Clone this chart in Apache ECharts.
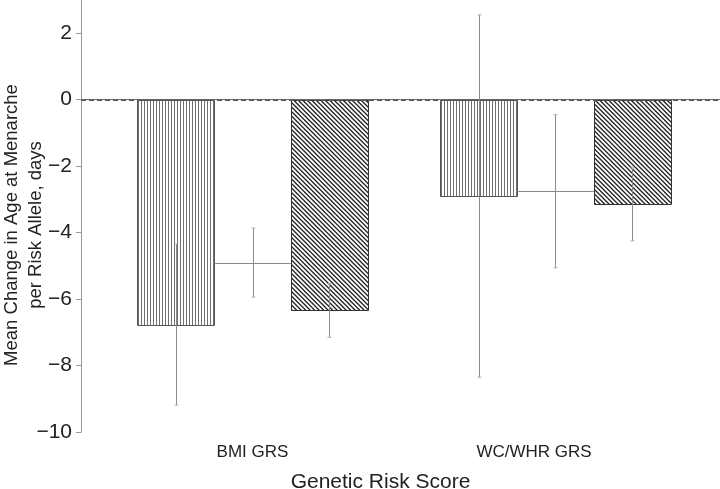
<!DOCTYPE html>
<html>
<head>
<meta charset="utf-8">
<script src="https://cdn.jsdelivr.net/npm/echarts@6/dist/echarts.min.js"></script>
<style>html,body{margin:0;padding:0;background:#fff;}#c{width:720px;height:489px;}</style>
</head>
<body>
<div id="c"></div>
<script>
// ---- data ----
const categories = ['BMI GRS', 'WC/WHR GRS'];
const yTicks = [-10, -8, -6, -4, -2, 0, 2];
const referenceLine = [0];
// vertical-hatched bars
const verticalMean = [-6.76, -2.90];
const verticalLow  = [-9.19, -8.35];
const verticalHigh = [-4.34, 2.55];
// middle (unfilled) estimates
const middleMean = [-4.90, -2.75];
const middleLow  = [-5.94, -5.06];
const middleHigh = [-3.86, -0.45];
// diagonal-hatched bars
const diagMean = [-6.33, -3.14];
const diagLow  = [-7.15, -4.25];
const diagHigh = [-5.53, -2.05];

// ---- layout (x axis runs 0..1 across plot) ----
const groupPos = [0.2684, 0.7425];
const labelPos = [0.2684, 0.7089];
const barW = 0.1200;

function makePattern(kind) {
  const c = document.createElement('canvas');
  if (kind === 'vertical') {
    c.width = 3; c.height = 3;
    const ctx = c.getContext('2d');
    ctx.fillStyle = '#fff'; ctx.fillRect(0, 0, 3, 3);
    ctx.fillStyle = '#707070'; ctx.fillRect(0, 0, 1, 3);
  } else {
    const s = 9;
    c.width = s; c.height = s;
    const ctx = c.getContext('2d');
    ctx.fillStyle = '#fff'; ctx.fillRect(0, 0, s, s);
    ctx.strokeStyle = '#222'; ctx.lineWidth = 1.3;
    for (let k = -s; k <= s; k += s / 2) {
      ctx.beginPath(); ctx.moveTo(k - 1, -1); ctx.lineTo(k + s + 1, s + 1); ctx.stroke();
    }
  }
  return { image: c, repeat: 'repeat' };
}
const vPattern = makePattern('vertical');
const dPattern = makePattern('diag');

function toData(mean) { return mean.map((v, i) => [i, v]); }
function toErr(low, high) { return low.map((v, i) => [i, v, high[i]]); }

function barRender(slot, fill, stroke) {
  return function (params, api) {
    const g = api.value(0), v = api.value(1);
    const cx = groupPos[g] + (slot - 1) * barW;
    const a = api.coord([cx - barW / 2, 0]);
    const b = api.coord([cx + barW / 2, v]);
    const y = Math.min(a[1], b[1]);
    return {
      type: 'rect',
      shape: { x: Math.round(a[0]) + 0.5, y: Math.round(y) + 0.5, width: Math.round(b[0] - a[0]), height: Math.round(Math.abs(b[1] - a[1])) },
      style: { fill: fill, stroke: stroke, lineWidth: 1 }
    };
  };
}
function lineRender(slot) {
  return function (params, api) {
    const g = api.value(0), v = api.value(1);
    const cx = groupPos[g] + (slot - 1) * barW;
    const a = api.coord([cx - barW / 2, v]);
    const b = api.coord([cx + barW / 2, v]);
    const yy = Math.round(a[1]) + 0.5;
    return { type: 'line', shape: { x1: a[0], y1: yy, x2: b[0], y2: yy }, style: { stroke: '#8a8a8a', lineWidth: 1 } };
  };
}
function errRender(slot) {
  return function (params, api) {
    const g = api.value(0);
    const cx = groupPos[g] + (slot - 1) * barW;
    const lo = api.coord([cx, api.value(1)]);
    const hi = api.coord([cx, api.value(2)]);
    const x = Math.round(lo[0]) + 0.5;
    return {
      type: 'group',
      children: [
        { type: 'line', shape: { x1: x, y1: hi[1], x2: x, y2: lo[1] }, style: { stroke: '#8a8a8a', lineWidth: 1 } },
        { type: 'line', shape: { x1: x - 2, y1: lo[1], x2: x + 2, y2: lo[1] }, style: { stroke: '#b0b0b0', lineWidth: 1 } },
        { type: 'line', shape: { x1: x - 2, y1: hi[1], x2: x + 2, y2: hi[1] }, style: { stroke: '#b0b0b0', lineWidth: 1 } }
      ]
    };
  };
}
function refRender(params, api) {
  const v = api.value(0);
  const a = api.coord([0, v]);
  const b = api.coord([1, v]);
  const yy = Math.round(a[1]) + 0.5;
  return { type: 'line', shape: { x1: a[0], y1: yy, x2: b[0], y2: yy }, style: { stroke: '#555', lineWidth: 1, lineDash: [5, 3] } };
}

const chart = echarts.init(document.getElementById('c'), null, { renderer: 'canvas' });
const font = '"Liberation Sans", Arial, sans-serif';
chart.setOption({
  animation: false,
  backgroundColor: '#fff',
  grid: { left: 81, right: 0, top: 0, bottom: 57, containLabel: false, outerBoundsMode: 'none' },
  xAxis: {
    type: 'value', min: 0, max: 1,
    axisLine: { show: true, lineStyle: { color: '#666', width: 1 } },
    axisTick: { show: false },
    splitLine: { show: false },
    axisLabel: {
      customValues: labelPos,
      formatter: function (v) {
        let best = 0;
        labelPos.forEach((p, i) => { if (Math.abs(p - v) < Math.abs(labelPos[best] - v)) best = i; });
        return categories[best];
      },
      color: '#222', fontSize: 17, fontFamily: font, margin: 12
    },
    name: 'Genetic Risk Score', nameLocation: 'middle', nameGap: 40, nameMoveOverlap: false,
    nameTextStyle: { color: '#222', fontSize: 21, fontFamily: font, padding: [0, 40, 0, 0] }
  },
  yAxis: {
    type: 'value', min: -10, max: 3,
    axisLine: { show: true, lineStyle: { color: '#999', width: 1 } },
    axisTick: { show: true, customValues: yTicks, length: 5, inside: false, lineStyle: { color: '#999' } },
    splitLine: { show: false },
    axisLabel: {
      customValues: yTicks,
      formatter: function (v) { return v < 0 ? '\u2212' + Math.abs(v) : String(v); },
      color: '#222', fontSize: 21, fontFamily: font, margin: 9
    },
    name: 'Mean Change in Age at Menarche\nper Risk Allele, days',
    nameLocation: 'middle', nameGap: 33, nameMoveOverlap: false,
    nameTextStyle: { color: '#222', fontSize: 18.5, fontFamily: font, lineHeight: 24, padding: [0, 18, 0, 0] }
  },
  series: [
    { type: 'custom', renderItem: barRender(0, vPattern, '#555'), data: toData(verticalMean), z: 2 },
    { type: 'custom', renderItem: barRender(2, dPattern, '#333'), data: toData(diagMean), z: 2 },
    { type: 'custom', renderItem: refRender, data: referenceLine.map(v => [v]), encode: { y: 0 }, z: 3 },
    { type: 'custom', renderItem: lineRender(1), data: toData(middleMean), z: 3 },
    { type: 'custom', renderItem: errRender(0), data: toErr(verticalLow, verticalHigh), z: 4 },
    { type: 'custom', renderItem: errRender(1), data: toErr(middleLow, middleHigh), z: 4 },
    { type: 'custom', renderItem: errRender(2), data: toErr(diagLow, diagHigh), z: 4 }
  ]
});
</script>
</body>
</html>
